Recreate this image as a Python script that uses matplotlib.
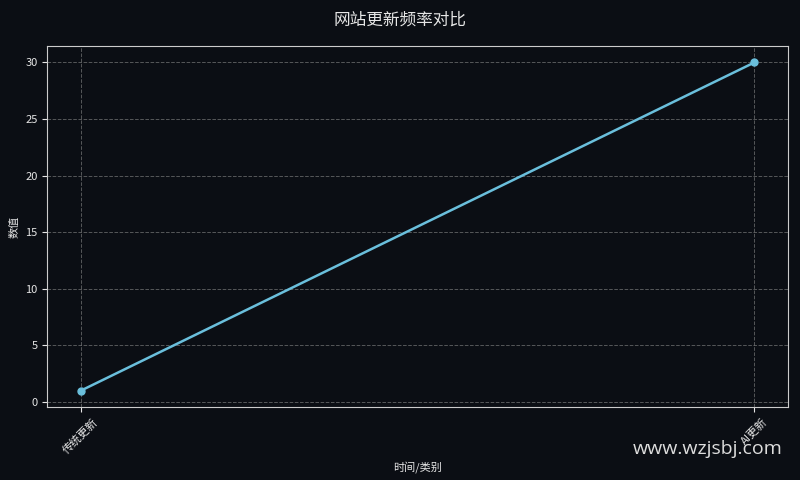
import matplotlib.pyplot as plt

plt.rcParams['font.family'] = ['Noto Sans CJK SC', 'DejaVu Sans']

# data
categories = ['传统更新', 'AI更新']
values = [1, 30]

bg = '#0b0e14'
fg = '#e6e6e6'
line_color = '#6abfdc'

fig = plt.figure(figsize=(8, 4.8), dpi=100, facecolor=bg)
ax = fig.add_axes([0.059, 0.152, 0.926, 0.752])
ax.set_facecolor(bg)

x = list(range(len(categories)))
ax.plot(x, values, color=line_color, linewidth=1.8, marker='o', markersize=5)

ax.set_xticks(x)
ax.set_xticklabels(categories, rotation=45, fontsize=8, color=fg)
ax.tick_params(axis='y', labelsize=8, colors=fg)
ax.tick_params(axis='x', colors=fg)
ax.set_yticks([0, 5, 10, 15, 20, 25, 30])

ax.grid(True, linestyle='--', color='#888888', alpha=0.6, linewidth=0.7)
for s in ax.spines.values():
    s.set_color('#cccccc')

ax.set_xlabel('时间/类别', fontsize=8, color=fg)
ax.set_ylabel('数值', fontsize=8, color=fg)
fig.suptitle('网站更新频率对比', fontsize=12, color=fg, y=0.975)

fig.text(0.978, 0.065, 'www.wzjsbj.com', fontsize=14, color='#dddddd',
         ha='right', va='center', family=['Open Sans', 'DejaVu Sans'])

fig.savefig('out.png', dpi=100, facecolor=bg)
